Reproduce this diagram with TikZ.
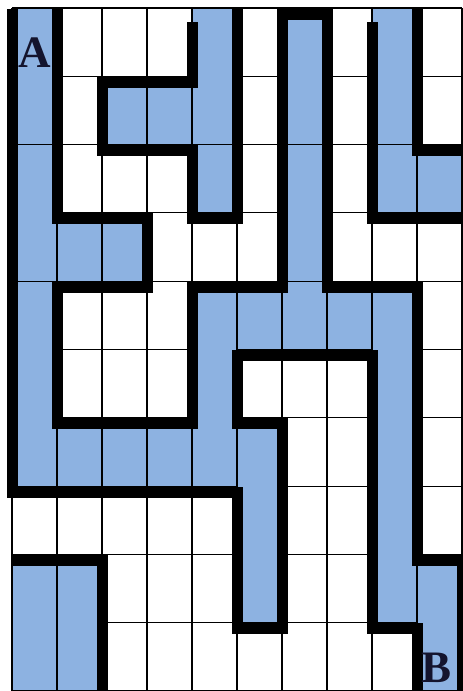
\documentclass[tikz,border=0pt]{standalone}
\usepackage{fontspec}
\setmainfont{Liberation Serif}
\definecolor{mazeblue}{RGB}{141,178,225}
\definecolor{labelink}{RGB}{20,20,45}
\begin{document}
\begin{tikzpicture}[
  wall/.style={line width=11pt, line cap=rect, line join=miter, black},
  gridline/.style={line width=1.1pt, black},
  mazelabel/.style={font=\bfseries\fontsize{45}{45}\selectfont, text=labelink, inner sep=0pt, anchor=base}
]
\clip (0pt,0pt) rectangle (463pt,-691pt);
\fill[white] (0pt,0pt) rectangle (463pt,-691pt);
\begin{scope}[shift={(12pt,-8pt)}, x=45pt, y=-68.3pt]
  % blue cells of the solution path
  \foreach \c/\r in {0/0,4/0,6/0,8/0, 0/1,2/1,3/1,4/1,6/1,8/1, 0/2,4/2,6/2,8/2,9/2,
                     0/3,1/3,2/3,6/3, 0/4,4/4,5/4,6/4,7/4,8/4, 0/5,4/5,8/5,
                     0/6,1/6,2/6,3/6,4/6,5/6,8/6, 5/7,8/7, 0/8,1/8,5/8,8/8,9/8, 0/9,1/9,9/9}
    \fill[mazeblue] (\c,\r) rectangle ++(1,1);
  % horizontal grid lines
  \foreach \r in {0,...,10} \draw[gridline] (0,\r) -- (10,\r);
  % horizontal lines hidden inside blue runs
  \foreach \c/\r in {0/1,4/1,6/1,8/1, 0/3,6/3, 0/5,4/5,8/5, 0/6,4/6,8/6,
                     5/7,8/7, 5/8,8/8, 0/9,1/9,9/9}
    \fill[mazeblue] (\c,\r-0.05) rectangle (\c+1,\r+0.05);
  % vertical grid lines
  \foreach \c in {0,...,10} \draw[gridline] (\c,0) -- (\c,10);
\end{scope}
\begin{scope}[shift={(12pt,-14pt)}, x=45pt, y=-68.3pt]
  \coordinate (p1a) at (0,0);
  \draw[wall] (p1a) -- (0,7) -- (5,7) -- (5,9) -- (6,9) -- (6,6) -- (5,6) -- (5,5)
              -- (8,5) -- (8,9) -- (9,9) -- (9,10.2);
  \draw[wall] (1,0) -- (1,3) -- (3,3) -- (3,4) -- (1,4) -- (1,6) -- (4,6) -- (4,4)
              -- (6,4) -- (6,0) -- (7,0) -- (7,4) -- (9,4) -- (9,8) -- (10,8) -- (10,10.2);
  \draw[wall] (4,0.2) -- (4,1) -- (2,1) -- (2,2) -- (4,2) -- (4,3) -- (5,3) -- (5,0);
  \draw[wall] (8,0.2) -- (8,3) -- (10,3);
  \draw[wall] (9,0) -- (9,2) -- (10,2);
  \draw[wall] (0.12,8) -- (2,8) -- (2,10.2);
\end{scope}
\node[mazelabel] (labA) at (35pt,-67pt) {A};
\node[mazelabel] (labB) at (437pt,-682pt) {B};
\end{tikzpicture}
\end{document}
